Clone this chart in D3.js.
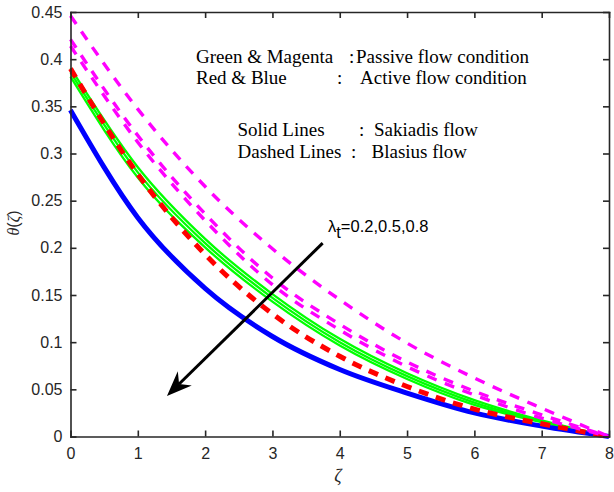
<!DOCTYPE html>
<html><head><meta charset="utf-8">
<script src="https://cdn.jsdelivr.net/npm/d3@7"></script>
<style>body{margin:0;background:#fff}svg{display:block}</style>
</head><body>
<svg id="c" width="614" height="492"></svg>
<script>
// ---- data ----
const zeta = [0, 1, 2, 3, 4, 5, 6, 7, 8];
const xTicks = [0, 1, 2, 3, 4, 5, 6, 7, 8];
const yTicks = [0, 0.05, 0.1, 0.15, 0.2, 0.25, 0.3, 0.35, 0.4, 0.45];
const yTickLabels = ["0", "0.05", "0.1", "0.15", "0.2", "0.25", "0.3", "0.35", "0.4", "0.45"];
// Passive, Sakiadis (green solid), lambda_t = 0.2, 0.5, 0.8
const green1 = [0.3905, 0.2855, 0.2095, 0.151, 0.1035, 0.067, 0.0385, 0.017, 0];
const green2 = [0.386, 0.280, 0.205, 0.147, 0.100, 0.064, 0.036, 0.016, 0];
const green3 = [0.3815, 0.2745, 0.2005, 0.143, 0.0965, 0.061, 0.0335, 0.015, 0];
// Passive, Blasius (magenta dashed)
const magenta1 = [0.446, 0.347, 0.265, 0.199, 0.145, 0.099, 0.062, 0.030, 0];
const magenta2 = [0.421, 0.319, 0.236, 0.168, 0.119, 0.079, 0.048, 0.023, 0];
const magenta3 = [0.414, 0.312, 0.229, 0.161, 0.113, 0.074, 0.044, 0.0195, 0];
// Active, Sakiadis (blue solid) and Blasius (red dashed)
const blue = [0.346, 0.232, 0.157, 0.106, 0.071, 0.046, 0.025, 0.011, 0];
const red = [0.390, 0.278, 0.193, 0.130, 0.085, 0.053, 0.029, 0.0135, 0];
// arrow (data coords): from start to tip
const arrowStart = [3.746, 0.205];
const arrowTip = [1.433, 0.043];
const arrowLabel = "=0.2,0.5,0.8";

// ---- layout ----
const svg = d3.select("#c");
const L = 70.5, R = 609, T = 12, B = 436.5;
const x = d3.scaleLinear().domain([0, 8]).range([L, R]);
const y = d3.scaleLinear().domain([0, 0.45]).range([B, T]);
const axisColor = "#262626";

const line = d3.line().x((d, i) => x(zeta[i])).y(d => y(d)).curve(d3.curveMonotoneX);

const g = svg.append("g");
function drawSeries(data, color, w, dash) {
  g.append("path").datum(data).attr("d", line)
    .attr("fill", "none").attr("stroke", color).attr("stroke-width", w)
    .attr("stroke-dasharray", dash || null).attr("stroke-linecap", "butt");
}
[green1, green2, green3].forEach(s => drawSeries(s, "#00ff00", 2.3));
drawSeries(blue, "#0000ff", 5);
drawSeries(red, "#ff0000", 5, "10,8");
[magenta1, magenta2, magenta3].forEach(s => drawSeries(s, "#ff00ff", 3.4, "10,9"));

// ---- axes ----
const font = "'Liberation Sans', Arial, Helvetica, sans-serif";
const axB = d3.axisBottom(x).tickValues(xTicks).tickSizeInner(-6).tickSizeOuter(0).tickPadding(11);
const axT = d3.axisTop(x).tickValues(xTicks).tickSizeInner(-6).tickSizeOuter(0).tickFormat("");
const axL = d3.axisLeft(y).tickValues(yTicks).tickSizeInner(-6).tickSizeOuter(0).tickPadding(8)
  .tickFormat((d, i) => yTickLabels[i]);
const axR = d3.axisRight(y).tickValues(yTicks).tickSizeInner(-6).tickSizeOuter(0).tickFormat("");

function styleAxis(sel) {
  sel.select(".domain").attr("stroke", axisColor).attr("stroke-width", 1.6);
  sel.selectAll(".tick line").attr("stroke", axisColor).attr("stroke-width", 1.6);
  sel.selectAll(".tick text").attr("fill", axisColor).style("font-family", font).style("font-size", "16px");
}
styleAxis(svg.append("g").attr("transform", `translate(0,${B})`).call(axB));
styleAxis(svg.append("g").attr("transform", `translate(0,${T})`).call(axT));
styleAxis(svg.append("g").attr("transform", `translate(${L},0)`).call(axL));
styleAxis(svg.append("g").attr("transform", `translate(${R},0)`).call(axR));
svg.selectAll(".domain").attr("stroke-linecap", "square");

// axis labels
svg.append("text").attr("x", 338).attr("y", 482).attr("text-anchor", "middle")
  .style("font-family", "'Liberation Serif', 'Times New Roman', serif").style("font-style", "italic")
  .style("font-size", "18px").attr("fill", axisColor).text("ζ");
const yl = svg.append("text").attr("transform", "translate(19,223) rotate(-90)").attr("text-anchor", "middle")
  .style("font-family", font).style("font-size", "16px").attr("fill", axisColor);
yl.append("tspan").style("font-family", "'Liberation Serif', serif").style("font-style", "italic").text("θ");
yl.append("tspan").text("(");
yl.append("tspan").style("font-family", "'Liberation Serif', serif").style("font-style", "italic").text("ζ");
yl.append("tspan").text(")");

// ---- arrow ----
const ax0 = x(arrowStart[0]), ay0 = y(arrowStart[1]);
const ax1 = x(arrowTip[0]), ay1 = y(arrowTip[1]);
const dx = ax1 - ax0, dy = ay1 - ay0, len = Math.hypot(dx, dy);
const ux = dx / len, uy = dy / len, px = -uy, py = ux;
const back = 25, half = 10, notch = 17;
svg.append("line").attr("x1", ax0).attr("y1", ay0)
  .attr("x2", ax1 - ux * notch).attr("y2", ay1 - uy * notch)
  .attr("stroke", "#000").attr("stroke-width", 3);
const head = [
  [ax1, ay1],
  [ax1 - ux * back + px * half, ay1 - uy * back + py * half],
  [ax1 - ux * notch, ay1 - uy * notch],
  [ax1 - ux * back - px * half, ay1 - uy * back - py * half]
];
svg.append("path").attr("d", "M" + head.map(p => p.join(",")).join("L") + "Z").attr("fill", "#000");

const lt = svg.append("text").attr("x", 328).attr("y", 232)
  .style("font-family", font).style("font-size", "16.5px").attr("fill", "#000");
lt.append("tspan").text("λ");
lt.append("tspan").attr("dy", 6).text("t");
lt.append("tspan").attr("dy", -6).text(arrowLabel);

// ---- annotation text ----
const serif = "'Liberation Serif', 'Times New Roman', Times, serif";
const notes = [
  [196, 62.5, "Green & Magenta"], [349, 62.5, ":"], [356, 62.5, "Passive flow condition"],
  [196, 84, "Red & Blue"], [337, 84, ":"], [360, 84, "Active flow condition"],
  [237.5, 136, "Solid Lines"], [359, 136, ":"], [374, 136, "Sakiadis flow"],
  [237.5, 158.3, "Dashed Lines"], [351, 158.3, ":"], [371.5, 158.3, "Blasius flow"]
];
svg.append("g").selectAll("text").data(notes).join("text")
  .attr("x", d => d[0]).attr("y", d => d[1]).text(d => d[2])
  .style("font-family", serif).style("font-size", "19px").attr("fill", "#000");
</script>
</body></html>
